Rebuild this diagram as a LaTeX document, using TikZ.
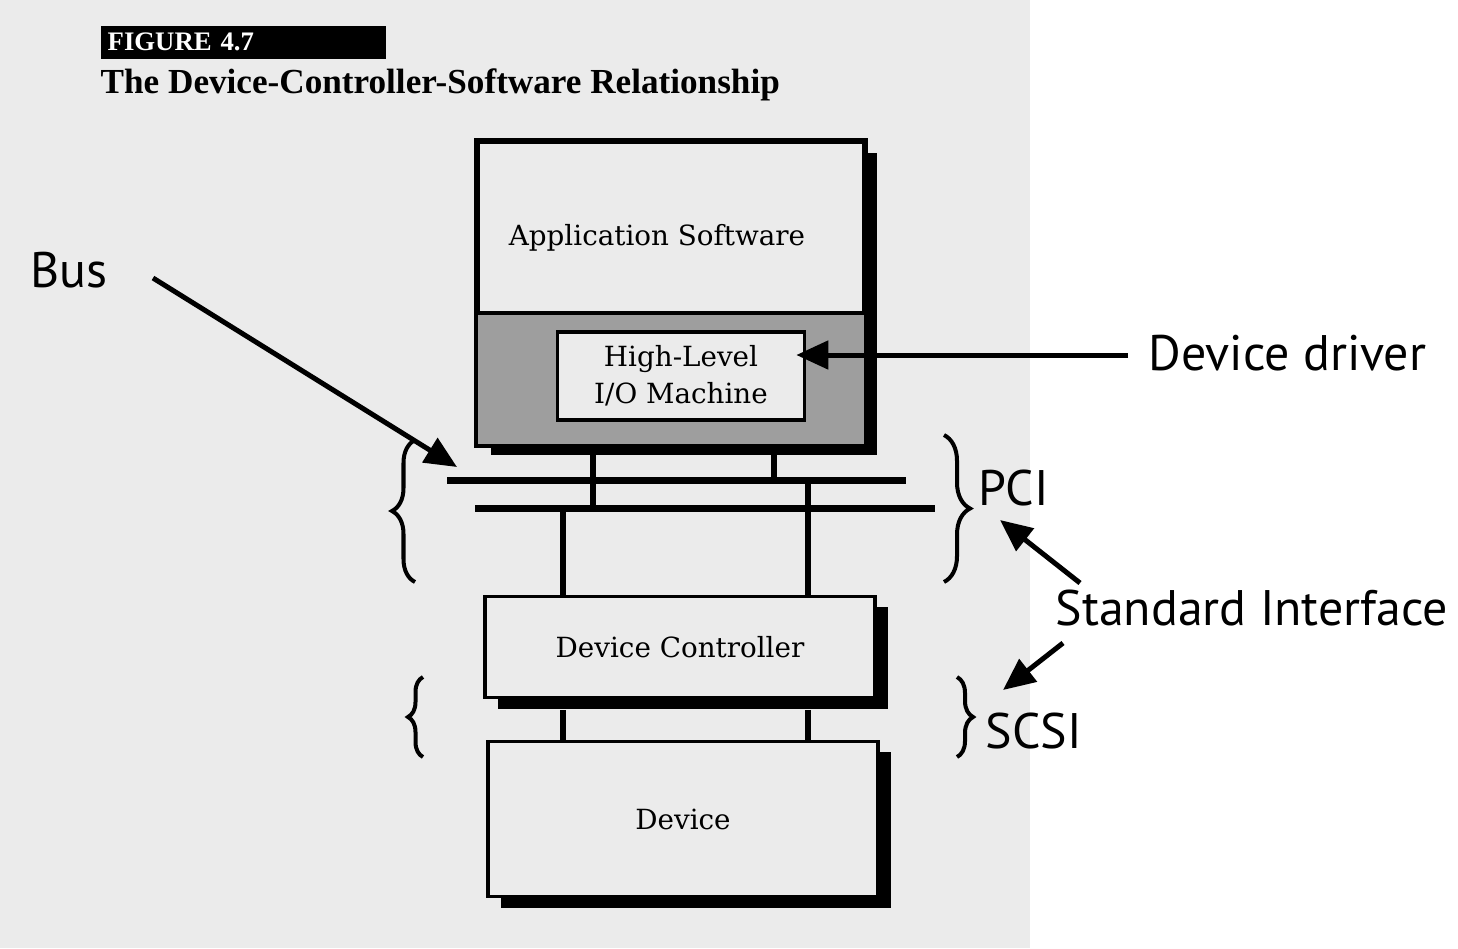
\documentclass[tikz,border=0pt]{standalone}
\usepackage{fontspec}
\setmainfont{DejaVu Serif}
\newfontfamily\notefont{PT Sans}
\newfontfamily\capfont{Liberation Serif}
\usetikzlibrary{arrows.meta,shadows,decorations.pathreplacing}
\definecolor{paper}{gray}{0.92}
\definecolor{ioshade}{gray}{0.62}

\begin{document}
\begin{tikzpicture}[x=0.01cm,y=-0.01cm,
  caja/.style={draw,line width=0.035cm,fill=paper,inner sep=0pt,align=center,
    font=\fontsize{7.9}{10.5}\selectfont,
    drop shadow={shadow xshift=0.13cm,shadow yshift=-0.11cm,fill=black,opacity=1}},
  nota/.style={font=\notefont\fontsize{14.2}{16}\selectfont,anchor=base west,inner sep=0pt},
  bus/.style={line width=0.07cm},
  hilo/.style={line width=0.06cm},
  flecha/.style={line width=0.05cm,-{Triangle[length=0.32cm,width=0.28cm]}},
  llave/.style={line width=0.04cm,decorate,decoration={brace,amplitude=#1}}]
  \useasboundingbox (0,0) rectangle (1458,948);
  % fondo (pagina escaneada)
  \fill[white] (0,0) rectangle (1458,948);
  \fill[paper] (0,0) rectangle (1030,948);
  % cabecera de la figura
  \node[fill=black,text=white,anchor=north west,inner xsep=0.07cm,inner ysep=0pt,
    text width=2.71cm,minimum height=0.33cm,align=left,
    font=\capfont\bfseries\fontsize{7.6}{8}\selectfont] (fig) at (100,25) {FIGURE 4.7};
  \node[anchor=base west,inner sep=0pt,font=\capfont\bfseries\fontsize{10}{10}\selectfont]
    (titulo) at (100,93) {The Device-Controller-Software Relationship};
  % buses y derivaciones
  \coordinate (b1w) at (447,480); \coordinate (b1e) at (906,480);
  \coordinate (b2w) at (475,508); \coordinate (b2e) at (935,508);
  \coordinate (tA) at (593,0); \coordinate (tB) at (774,0);
  \coordinate (tC) at (563,0); \coordinate (tD) at (808,0);
  \draw[bus] (b1w) -- (b1e);
  \draw[bus] (b2w) -- (b2e);
  % cajas
  \node[caja,minimum width=3.86cm,minimum height=3.02cm] (app) at (671,293) {};
  \coordinate (corte) at (0,313);
  \draw[line width=0.035cm,fill=ioshade] (app.south west) rectangle (app.east |- corte);
  \draw[line width=0.035cm] (app.south west) rectangle (app.north east);
  \node[anchor=base,font=\fontsize{7.9}{10.5}\selectfont] (apptxt) at (657,245) {Application Software};
  \node[draw,line width=0.035cm,fill=paper,align=center,inner sep=0pt,
    minimum width=2.47cm,minimum height=0.88cm,font=\fontsize{7.9}{10.5}\selectfont]
    (hlio) at (681,376) {High-Level\\I/O Machine};
  \node[caja,minimum width=3.90cm,minimum height=1.01cm] (ctl) at (680,647) {Device Controller};
  \node[caja,minimum width=3.90cm,minimum height=1.55cm] (dev) at (683,819) {Device};
  % conexiones
  \draw[hilo] (app.south -| tA) -- (b2w -| tA);
  \draw[hilo] (app.south -| tB) -- (b1w -| tB);
  \draw[hilo] (b2w -| tC) -- (ctl.north -| tC);
  \draw[hilo] (b1w -| tD) -- (ctl.north -| tD);
  \draw[hilo] ([yshift=-0.11cm]ctl.south -| tC) -- (dev.north -| tC);
  \draw[hilo] ([yshift=-0.11cm]ctl.south -| tD) -- (dev.north -| tD);
  % llaves
  \draw[llave=0.23cm] (415,582) -- (415,440);
  \draw[llave=0.26cm] (944,435) -- (944,582);
  \draw[llave=0.15cm] (423,757) -- (423,677);
  \draw[llave=0.16cm] (957,677) -- (957,757);
  % anotaciones
  \node[nota] (buslbl) at (30,287) {Bus};
  \node[nota] (drvlbl) at (1148,370) {Device driver};
  \node[nota] (pcilbl) at (978,505) {PCI};
  \node[nota] (stdlbl) at (1055,625) {Standard Interface};
  \node[nota] (scsilbl) at (985,748) {SCSI};
  \coordinate (busini) at (153,278); \coordinate (busfin) at (457,467);
  \coordinate (drvini) at (1128,355);
  \coordinate (pciini) at (1080,583); \coordinate (pcifin) at (1000,520);
  \coordinate (scsiini) at (1063,643); \coordinate (scsifin) at (1003,690);
  \draw[flecha] (busini) -- (busfin);
  \draw[flecha,shorten >=-0.1cm] (drvini) -- (hlio.east |- drvini);
  \draw[flecha] (pciini) -- (pcifin);
  \draw[flecha] (scsiini) -- (scsifin);
\end{tikzpicture}
\end{document}
